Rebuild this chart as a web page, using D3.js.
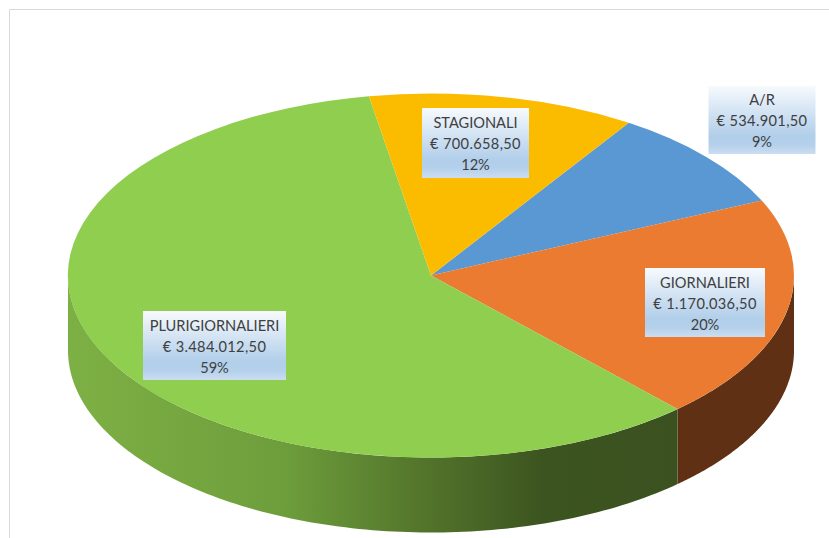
<!DOCTYPE html>
<html>
<head>
<meta charset="utf-8">
<script src="https://cdn.jsdelivr.net/npm/d3@7"></script>
<style>
html,body{margin:0;padding:0;background:#fff;overflow:hidden}
svg{display:block}
text{font-family:Lato,"Open Sans",sans-serif}
</style>
</head>
<body>
<svg id="chart" width="829" height="538"></svg>
<script>
const categories = ["A/R", "GIORNALIERI", "PLURIGIORNALIERI", "STAGIONALI"];
const values = [534901.5, 1170036.5, 3484012.5, 700658.5];
const topColors = ["#5A98D3", "#EA7B30", "#90CE50", "#FBBC00"];

// layout only
const W = 829, H = 538;
const cx = 431, cy = 275.5, rx = 363, ry = 182, depth = 75;
const startDeg = 33.0;
const boxCentre = [[762, 120], [705, 302.5], [214.5, 345.5], [475.5, 143]];
const boxSize = [[107, 68], [120, 69], [143, 69], [107, 70]];

const svg = d3.select("#chart");
const defs = svg.append("defs");

const wallGreen = defs.append("linearGradient").attr("id", "wallGreen")
  .attr("gradientUnits", "userSpaceOnUse").attr("x1", 68).attr("x2", 678).attr("y1", 0).attr("y2", 0);
[[0, "#7DB044"], [0.35, "#6E9E3C"], [0.58, "#53752B"], [0.78, "#3C5420"], [1, "#3B5220"]]
  .forEach(s => wallGreen.append("stop").attr("offset", s[0]).attr("stop-color", s[1]));

const labelFill = defs.append("linearGradient").attr("id", "labelFill")
  .attr("x1", 0).attr("x2", 0).attr("y1", 0).attr("y2", 1);
[[0, "#F7FAFD"], [0.74, "#B1CEEA"], [0.86, "#B4D0EB"], [1, "#CBDDF1"]]
  .forEach(s => labelFill.append("stop").attr("offset", s[0]).attr("stop-color", s[1]));

// frame
const framePath = d3.path();
framePath.moveTo(9.5, H);
framePath.lineTo(9.5, 9.5);
framePath.lineTo(W, 9.5);
svg.append("path")
  .attr("d", framePath.toString())
  .attr("fill", "none").attr("stroke", "#D9D9D9").attr("stroke-width", 1);

const total = d3.sum(values);
const start = startDeg * Math.PI / 180;
const pie = d3.pie().sort(null).startAngle(start).endAngle(start + 2 * Math.PI);
const arcs = pie(values);

// side walls: only the front half of the rim (90 to 270 degrees) is visible
const px = a => cx + rx * Math.sin(a);
const py = a => cy - ry * Math.cos(a);
const line = d3.line();
const wallPath = (a0, a1) => {
  const n = 120;
  const angles = d3.range(n + 1).map(i => a0 + (a1 - a0) * i / n);
  const topEdge = angles.map(a => [px(a), py(a)]);
  const botEdge = angles.slice().reverse().map(a => [px(a), py(a) + depth]);
  return line(topEdge.concat(botEdge)) + "Z";
};
const wallColours = ["none", "#5F3013", "url(#wallGreen)", "none"];
const walls = svg.append("g");
arcs.forEach((d, i) => {
  const a0 = Math.max(d.startAngle, Math.PI / 2);
  const a1 = Math.min(d.endAngle, 3 * Math.PI / 2);
  if (a1 > a0) {
    walls.append("path").attr("d", wallPath(a0, a1)).attr("fill", wallColours[i]);
  }
});

// top face
const arc = d3.arc().innerRadius(0).outerRadius(1);
svg.append("g").attr("transform", `translate(${cx},${cy}) scale(${rx},${ry})`)
  .selectAll("path").data(arcs).join("path")
  .attr("d", arc)
  .attr("fill", (d, i) => topColors[i]);

// labels
const money = d3.formatLocale({ decimal: ",", thousands: ".", grouping: [3], currency: ["€ ", ""] }).format("$,.2f");
const pct = d3.format(".0%");
const labels = svg.append("g");
categories.forEach((c, i) => {
  const [mx, my] = boxCentre[i], [bw, bh] = boxSize[i];
  labels.append("rect")
    .attr("x", mx - bw / 2).attr("y", my - bh / 2)
    .attr("width", bw).attr("height", bh)
    .attr("fill", "url(#labelFill)");
  [c, money(values[i]), pct(values[i] / total)].forEach((t, j) => {
    labels.append("text")
      .attr("x", mx).attr("y", my + (j - 1) * 21 + 6)
      .attr("text-anchor", "middle")
      .attr("font-size", 14.6)
      .attr("letter-spacing", j === 1 ? 0.35 : 0)
      .attr("fill", "#404040")
      .text(t);
  });
});
</script>
</body>
</html>
